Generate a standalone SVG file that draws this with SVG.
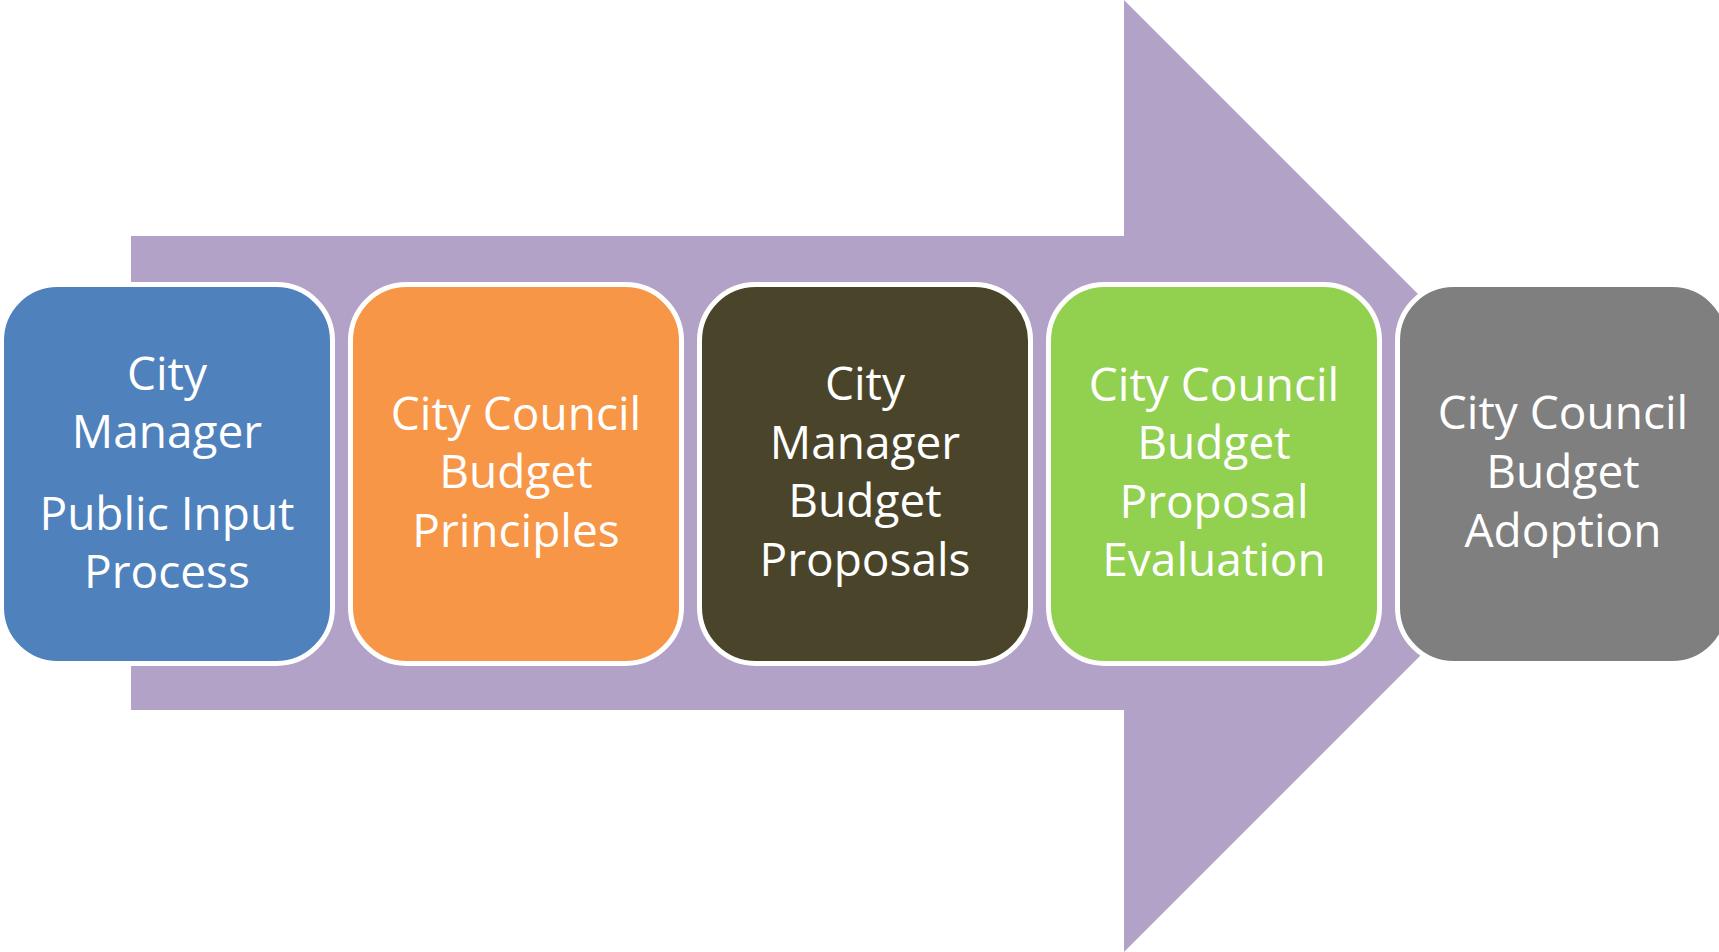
<svg xmlns="http://www.w3.org/2000/svg" width="1719" height="952" viewBox="0 0 1719 952">
<style>
.box{stroke:#FFFFFF;stroke-width:5}
.t{font-family:"Open Sans","Liberation Sans",sans-serif;font-size:46px;fill:#FFFFFF;text-anchor:middle}
</style>
<rect width="1719" height="952" fill="#FFFFFF"/>
<g id="connectors">
<polygon id="arrow" points="131,236 1124,236 1124,0 1600,476 1124,952 1124,710 131,710" fill="#B3A2C7"/>
</g>
<g id="node1">
<rect class="box" x="1.5" y="284.5" width="331" height="379" rx="56" fill="#4F81BD"/>
<text class="t" x="167" y="390">City</text>
<text class="t" x="167" y="448">Manager</text>
<text class="t" x="167" y="530">Public Input</text>
<text class="t" x="167" y="588">Process</text>
</g>
<g id="node2">
<rect class="box" x="350.5" y="284.5" width="331" height="379" rx="56" fill="#F79646"/>
<text class="t" x="516" y="430">City Council</text>
<text class="t" x="516" y="488">Budget</text>
<text class="t" x="516" y="547">Principles</text>
</g>
<g id="node3">
<rect class="box" x="699.5" y="284.5" width="331" height="379" rx="56" fill="#4A452A"/>
<text class="t" x="865" y="400">City</text>
<text class="t" x="865" y="459">Manager</text>
<text class="t" x="865" y="517">Budget</text>
<text class="t" x="865" y="576">Proposals</text>
</g>
<g id="node4">
<rect class="box" x="1048.5" y="284.5" width="331" height="379" rx="56" fill="#92D050"/>
<text class="t" x="1214" y="401">City Council</text>
<text class="t" x="1214" y="459">Budget</text>
<text class="t" x="1214" y="518">Proposal</text>
<text class="t" x="1214" y="576">Evaluation</text>
</g>
<g id="node5">
<rect class="box" x="1397.5" y="284.5" width="331" height="379" rx="56" fill="#7F7F7F"/>
<text class="t" x="1563" y="429">City Council</text>
<text class="t" x="1563" y="488">Budget</text>
<text class="t" x="1563" y="547">Adoption</text>
</g>
</svg>
